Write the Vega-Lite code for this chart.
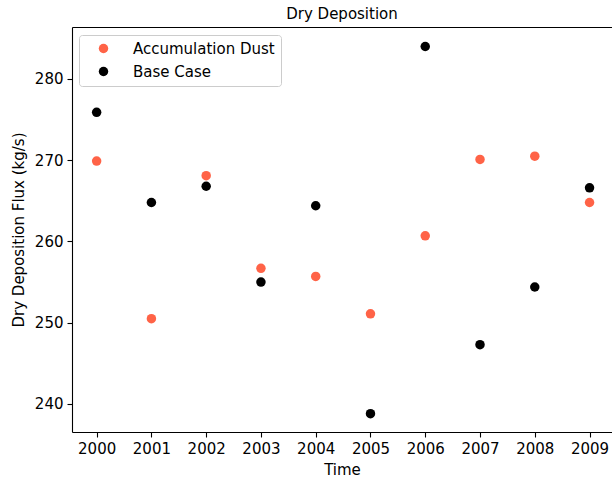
{
  "$schema": "https://vega.github.io/schema/vega-lite/v6.json",
  "autosize": "none",
  "width": 540,
  "height": 405,
  "padding": {"left": 72, "top": 27, "right": 0, "bottom": 48},
  "background": "white",
  "config": {
    "font": "DejaVu Sans",
    "view": {"stroke": null},
    "axis": {
      "grid": false,
      "domainColor": "black",
      "domainWidth": 1.1,
      "tickColor": "black",
      "tickWidth": 1.1,
      "tickSize": 5,
      "labelPadding": 4,
      "labelFontSize": 15,
      "labelColor": "black",
      "titleFontSize": 15,
      "titleColor": "black",
      "titleFontWeight": "normal"
    }
  },
  "title": {
    "text": "Dry Deposition",
    "fontSize": 15,
    "fontWeight": "normal",
    "color": "black",
    "anchor": "middle",
    "offset": 5
  },
  "datasets": {
    "flux": [
      {"year": 2000, "run": "Accumulation Dust", "flux": 269.9},
      {"year": 2001, "run": "Accumulation Dust", "flux": 250.5},
      {"year": 2002, "run": "Accumulation Dust", "flux": 268.1},
      {"year": 2003, "run": "Accumulation Dust", "flux": 256.7},
      {"year": 2004, "run": "Accumulation Dust", "flux": 255.7},
      {"year": 2005, "run": "Accumulation Dust", "flux": 251.1},
      {"year": 2006, "run": "Accumulation Dust", "flux": 260.7},
      {"year": 2007, "run": "Accumulation Dust", "flux": 270.1},
      {"year": 2008, "run": "Accumulation Dust", "flux": 270.5},
      {"year": 2009, "run": "Accumulation Dust", "flux": 264.8},
      {"year": 2000, "run": "Base Case", "flux": 275.9},
      {"year": 2001, "run": "Base Case", "flux": 264.8},
      {"year": 2002, "run": "Base Case", "flux": 266.8},
      {"year": 2003, "run": "Base Case", "flux": 255.0},
      {"year": 2004, "run": "Base Case", "flux": 264.4},
      {"year": 2005, "run": "Base Case", "flux": 238.8},
      {"year": 2006, "run": "Base Case", "flux": 284.0},
      {"year": 2007, "run": "Base Case", "flux": 247.3},
      {"year": 2008, "run": "Base Case", "flux": 254.4},
      {"year": 2009, "run": "Base Case", "flux": 266.6}
    ]
  },
  "data": {"name": "flux"},
  "encoding": {
    "y": {
      "field": "flux",
      "type": "quantitative",
      "scale": {"domain": [236.55, 286.4], "nice": false, "zero": false},
      "axis": {"values": [240, 250, 260, 270, 280], "title": "Dry Deposition Flux (kg/s)", "titlePadding": 8}
    },
    "color": {
      "field": "run",
      "type": "nominal",
      "scale": {"domain": ["Accumulation Dust", "Base Case"], "range": ["#ff6347", "#000000"]},
      "legend": {
        "title": null,
        "orient": "none",
        "legendX": 7,
        "legendY": 8,
        "padding": 6,
        "rowPadding": 7,
        "symbolType": "circle",
        "symbolSize": 90,
        "symbolOffset": 11,
        "labelOffset": 22,
        "labelFontSize": 15,
        "labelColor": "black",
        "strokeColor": "#cccccc",
        "fillColor": "rgba(255,255,255,0.8)",
        "cornerRadius": 3
      }
    }
  },
  "layer": [
    {
      "transform": [{"filter": "datum.run === 'Accumulation Dust'"}],
      "mark": {"type": "point", "filled": true, "size": 90, "opacity": 1},
      "encoding": {
        "x": {
          "field": "year",
          "type": "quantitative",
          "scale": {"domain": [1999.55, 2009.41], "nice": false, "zero": false},
          "axis": {"orient": "bottom", "values": [2000, 2001, 2002, 2003, 2004, 2005, 2006, 2007, 2008, 2009], "format": "d", "title": "Time", "titlePadding": 6}
        }
      }
    },
    {
      "transform": [{"filter": "datum.run === 'Base Case'"}],
      "mark": {"type": "point", "filled": true, "size": 90, "opacity": 1},
      "encoding": {
        "x": {
          "field": "year",
          "type": "quantitative",
          "axis": {"orient": "top", "labels": false, "ticks": false, "title": null}
        }
      }
    }
  ],
  "resolve": {"axis": {"x": "independent"}}
}
